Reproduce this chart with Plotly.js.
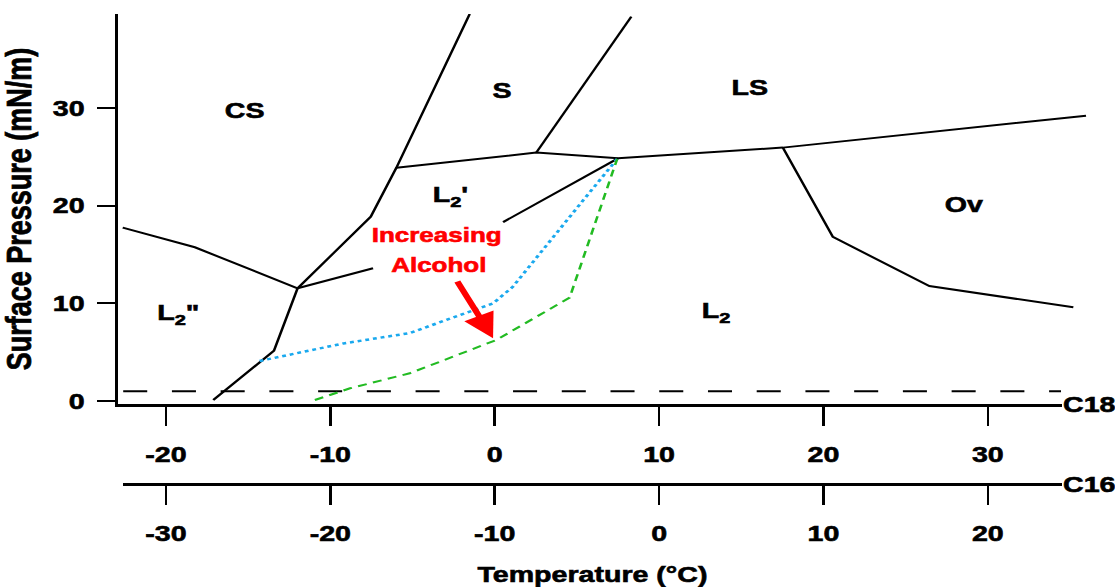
<!DOCTYPE html>
<html>
<head>
<meta charset="utf-8">
<script src="https://cdn.plot.ly/plotly-3.0.1.min.js"></script>
<style>
  html, body { margin: 0; padding: 0; background: #fff; overflow: hidden; }
  /* the figure is laid out narrow and widened, giving the broad lettering */
  #chart { width: 858px; height: 587px; transform: scaleX(1.2995); transform-origin: 0 0; }
</style>
</head>
<body>
<div id="chart"></div>
<script>
// Phase boundaries, temperature in °C (C18 scale), surface pressure in mN/m
const csL2ppT = [-22.63, -18.24, -11.99];
const csL2ppP = [17.76, 15.75, 11.55];

const condensedT = [-17.12, -13.43, -11.99, -7.54, -5.98, -1.52];
const condensedP = [0.1, 5.15, 11.55, 18.88, 23.9, 39.65];

const l2ppL2pT = [-11.99, -7.40];
const l2ppL2pP = [11.55, 13.6];

const upperT = [-5.98, 2.53, 7.50, 17.53, 35.97];
const upperP = [23.9, 25.45, 24.86, 25.96, 29.23];

const sLsT = [2.53, 8.31];
const sLsP = [25.45, 39.38];

const l2pL2T = [7.50, 0.51];
const l2pL2P = [24.86, 18.33];

const lsOvT = [17.53, 20.57, 26.44, 35.2];
const lsOvP = [25.96, 16.81, 11.78, 9.6];

// reference pressure level
const refT = [-22.6, 34.45];
const refP = [1, 1];

// L2 / L2' boundary with alcohol added
const lowAlcT = [-14.3, -9.2, -5.2, -0.1, 1.1, 2.1, 5.4, 7.45];
const lowAlcP = [4.1, 5.9, 6.95, 10.0, 11.7, 13.8, 20.6, 24.8];

const highAlcT = [-10.94, -8.8, -5.17, 0.1, 4.56, 5.78, 7.45];
const highAlcP = [0.1, 1.3, 2.84, 6.25, 10.6, 16.5, 24.8];

// axis ticks
const c18Ticks = [-20, -10, 0, 10, 20, 30];
const c18Labels = ['-20', '-10', '0', '10', '20', '30'];
const c16Ticks = [-30, -20, -10, 0, 10, 20];
const c16Labels = ['-30', '-20', '-10', '0', '10', '20'];
const pTicks = [0, 10, 20, 30];
const pLabels = ['0', '10', '20', '30'];

// phase labels
const phaseText = ['CS', 'S', 'LS', 'L<sub>2</sub>\'', 'Ov', 'L<sub>2</sub>', 'L<sub>2</sub>"'];
const phaseT = [-15.2, 0.46, 15.55, -2.67, 28.57, 13.43, -19.23];
const phaseP = [29.8, 31.83, 32.1, 21.0, 20.1, 9.1, 8.95];

const FAM = 'Liberation Sans, Arial, Helvetica, sans-serif';
const boldFont = (size, color) => ({family: FAM, size: size, color: color || '#000', weight: 'bold'});

const blk = {color: '#000', width: 2};
function boundary(t, p) {
  return {x: t, y: p, mode: 'lines', line: blk, hoverinfo: 'skip', showlegend: false};
}

const traces = [
  boundary(csL2ppT, csL2ppP),
  boundary(condensedT, condensedP),
  boundary(l2ppL2pT, l2ppL2pP),
  boundary(upperT, upperP),
  boundary(sLsT, sLsP),
  boundary(l2pL2T, l2pL2P),
  boundary(lsOvT, lsOvP),
  {x: refT, y: refP, mode: 'lines', line: {color: '#000', width: 2, dash: '18.5px,19px'},
   hoverinfo: 'skip', showlegend: false},
  {x: lowAlcT, y: lowAlcP, mode: 'lines', line: {color: '#1aa9ee', width: 2.5, dash: '3px,3px'},
   hoverinfo: 'skip', showlegend: false},
  {x: highAlcT, y: highAlcP, mode: 'lines', line: {color: '#22bb22', width: 2, dash: '7px,5px'},
   hoverinfo: 'skip', showlegend: false},
  // carriers for the two temperature scales
  {x: [], y: [], xaxis: 'x3', yaxis: 'y', mode: 'lines', hoverinfo: 'skip', showlegend: false},
  {x: [], y: [], xaxis: 'x2', yaxis: 'y', mode: 'lines', hoverinfo: 'skip', showlegend: false}
];

const annotations = phaseText.map((t, i) => ({
  x: phaseT[i], y: phaseP[i], xref: 'x', yref: 'y', text: t, showarrow: false,
  font: boldFont(22), xanchor: 'center', yanchor: 'middle'
}));

// plot area runs past the drawn temperature axes, as the boundaries do
const dataRange = [-22.9, 36.23];
const c18Range = [-22.9, 34.49];
const scaleFrac = (c18Range[1] - c18Range[0]) / (dataRange[1] - dataRange[0]);
const c16Start = -32.6;
const c16Range = [c16Start, c18Range[1] - 10];
const c16Dom0 = (c16Start - (c18Range[0] - 10)) / (dataRange[1] - dataRange[0]);

annotations.push(
  {x: -3.55, y: 17.0, xref: 'x', yref: 'y', text: 'Increasing', showarrow: false,
   font: boldFont(20, '#ff0000'), xanchor: 'center', yanchor: 'middle'},
  {x: -3.44, y: 13.9, xref: 'x', yref: 'y', text: 'Alcohol', showarrow: false,
   font: boldFont(20, '#ff0000'), xanchor: 'center', yanchor: 'middle'},
  {x: -0.1, y: 6.42, ax: -2.33, ay: 12.4, xref: 'x', yref: 'y', axref: 'x', ayref: 'y',
   text: '', showarrow: true, arrowhead: 2, arrowsize: 1, arrowwidth: 5, arrowcolor: '#ff0000'},
  {x: scaleFrac, y: 80 / 470, xref: 'paper', yref: 'paper', text: 'C18', showarrow: false,
   font: boldFont(22), xanchor: 'left', yanchor: 'middle', borderpad: 0},
  {x: scaleFrac, y: 0, xref: 'paper', yref: 'paper', text: 'C16', showarrow: false,
   font: boldFont(22), xanchor: 'left', yanchor: 'middle', borderpad: 0}
);

const axisCommon = {
  showline: true, linecolor: '#000', linewidth: 2.5, mirror: false,
  ticks: 'outside', tickcolor: '#000', tickwidth: 2,
  showgrid: false, zeroline: false, tickfont: boldFont(22), fixedrange: true
};

const layout = {
  width: 858, height: 587,
  margin: {l: 91, r: 19, t: 14, b: 103, pad: 0},
  paper_bgcolor: '#fff', plot_bgcolor: 'rgba(0,0,0,0)',
  showlegend: false,
  xaxis: {domain: [0, 1], range: dataRange, autorange: false, visible: false,
          showgrid: false, zeroline: false, fixedrange: true},
  xaxis3: Object.assign({}, axisCommon, {
    domain: [0, scaleFrac], range: c18Range, autorange: false, anchor: 'y',
    tickmode: 'array', tickvals: c18Ticks, ticktext: c18Labels,
    ticklen: 19, ticklabelstandoff: 10
  }),
  xaxis2: Object.assign({}, axisCommon, {
    domain: [c16Dom0, scaleFrac], range: c16Range, autorange: false, anchor: 'free', position: 0,
    side: 'bottom', tickmode: 'array', tickvals: c16Ticks, ticktext: c16Labels,
    ticklen: 19, ticklabelstandoff: 10,
    title: {text: 'Temperature (°C)', font: boldFont(22), standoff: 24}
  }),
  yaxis: Object.assign({}, axisCommon, {
    anchor: 'x',
    domain: [80 / 470, 1], range: [-0.307, 39.65], autorange: false,
    tickmode: 'array', tickvals: pTicks, ticktext: pLabels,
    ticklen: 14, ticklabelstandoff: 5,
    title: {text: 'Surface Pressure (mN/m)', font: boldFont(27), standoff: 9}
  }),
  annotations: annotations
};

Plotly.newPlot('chart', traces, layout, {staticPlot: true, displayModeBar: false}).then(gd => {
  // heavier lettering: outline each text in its own colour
  gd.querySelectorAll('text').forEach(t => {
    const f = t.style.fill;
    if (f) { t.style.stroke = f; t.style.strokeWidth = '0.6px'; }
  });
});
</script>
</body>
</html>
